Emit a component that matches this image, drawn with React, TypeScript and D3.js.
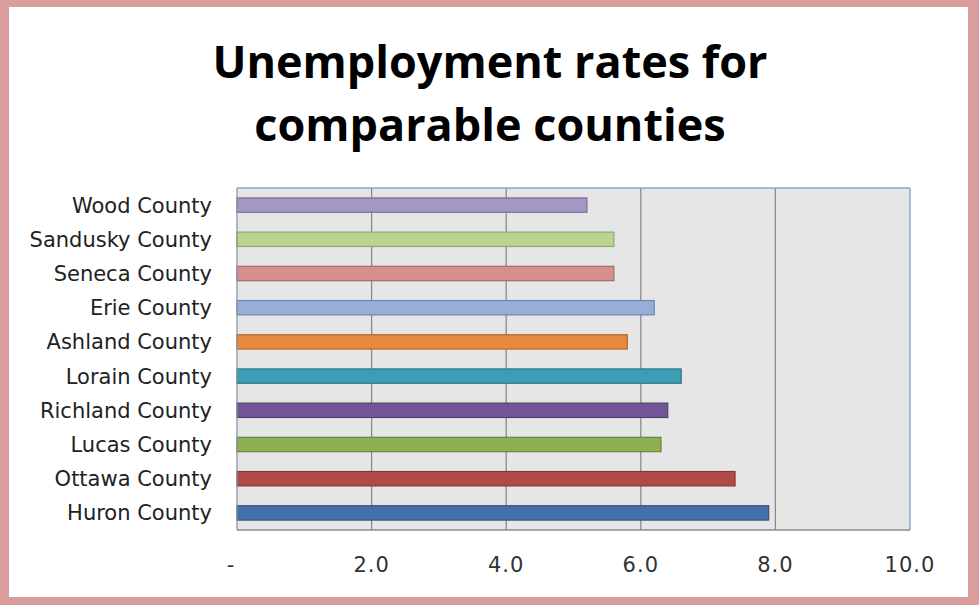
import React from "react";
import * as d3 from "d3";

const counties = [
  "Wood County",
  "Sandusky County",
  "Seneca County",
  "Erie County",
  "Ashland County",
  "Lorain County",
  "Richland County",
  "Lucas County",
  "Ottawa County",
  "Huron County",
];
const rates = [5.2, 5.6, 5.6, 6.2, 5.8, 6.6, 6.4, 6.3, 7.4, 7.9];
const fills = [
  "#a497c0",
  "#bad38f",
  "#d58f8e",
  "#96aed8",
  "#e5893c",
  "#3c9db4",
  "#725597",
  "#8fb052",
  "#b04b48",
  "#4471a9",
];
const strokes = [
  "#7d6f9a",
  "#8fa86a",
  "#a86a69",
  "#6f87ad",
  "#b56a2c",
  "#2c7688",
  "#534070",
  "#6a853c",
  "#853534",
  "#325381",
];
const xTicks = [0, 2, 4, 6, 8, 10];
const xTickLabels = ["-", "2.0", "4.0", "6.0", "8.0", "10.0"];
const titleLines = ["Unemployment rates for", "comparable counties"];

export default function App() {
  const W = 979;
  const H = 605;
  const left = 237;
  const right = 910;
  const top = 188;
  const bottom = 530;
  const x = d3.scaleLinear().domain([0, 10]).range([left, right]);
  const y = d3.scaleBand().domain(counties).range([top, bottom]).paddingInner(0.58).paddingOuter(0.29);

  return (
    <svg
      width={W}
      height={H}
      style={{ position: "absolute", left: 0, top: 0, display: "block" }}
    >
      <rect x={0} y={0} width={W} height={H} fill="#da9c9c" />
      <rect x={9} y={7} width={959} height={590} fill="#ffffff" />
      {titleLines.map((t, i) => (
        <text
          key={t}
          x={490}
          y={78 + i * 63}
          textAnchor="middle"
          fontFamily="'Open Sans', sans-serif"
          fontWeight={700}
          fontSize={45}
          fill="#000"
        >
          {t}
        </text>
      ))}
      <rect x={left} y={top} width={right - left} height={bottom - top} fill="#e6e6e6" />
      {xTicks.slice(1, -1).map((t) => (
        <line key={t} x1={x(t)} x2={x(t)} y1={top} y2={bottom} stroke="#8a8a8a" strokeWidth={1.3} />
      ))}
      {counties.map((c, i) => (
        <rect
          key={c}
          x={x(0)}
          y={y(c)!}
          width={x(rates[i]) - x(0)}
          height={y.bandwidth()}
          fill={fills[i]}
          stroke={strokes[i]}
          strokeWidth={1.2}
        />
      ))}
      <line x1={left} x2={right} y1={top} y2={top} stroke="#8aa7cc" strokeWidth={1.3} />
      <line x1={right} x2={right} y1={top} y2={bottom} stroke="#8aa7cc" strokeWidth={1.5} />
      <line x1={left} x2={left} y1={top} y2={bottom} stroke="#8b96a3" strokeWidth={1.3} />
      <line x1={left} x2={right} y1={bottom} y2={bottom} stroke="#8a8a8a" strokeWidth={1.3} />
      {counties.map((c) => (
        <text
          key={c}
          x={212}
          y={y(c)! + y.bandwidth() / 2}
          dy="0.36em"
          textAnchor="end"
          fontFamily="'DejaVu Sans', sans-serif"
          fontSize={21}
          fill="#222"
        >
          {c}
        </text>
      ))}
      {xTicks.map((t, i) => (
        <text
          key={t}
          x={t === 0 ? x(t) - 6 : x(t)}
          y={572}
          textAnchor="middle"
          fontFamily="'DejaVu Sans', sans-serif"
          fontSize={21}
          letterSpacing={1}
          fill="#333"
        >
          {xTickLabels[i]}
        </text>
      ))}
    </svg>
  );
}
